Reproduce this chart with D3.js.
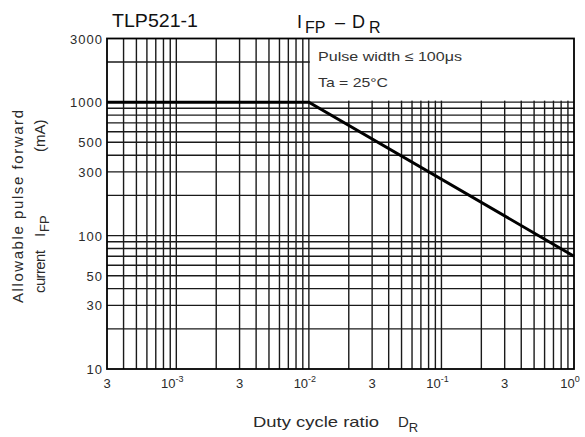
<!DOCTYPE html>
<html>
<head>
<meta charset="utf-8">
<script src="https://cdn.jsdelivr.net/npm/d3@7"></script>
<style>
  html, body { margin: 0; padding: 0; background: #fff; }
  svg { display: block; font-family: "Liberation Sans", Arial, sans-serif; }
</style>
</head>
<body>
<svg id="chart" width="585" height="437"></svg>
<script>
// ---- data ----
const dutyRatio = [3e-4, 1e-2, 1];
const ifpMax = [1000, 1000, 70];

const xGridValues = [4e-4,5e-4,6e-4,7e-4,8e-4,9e-4,1e-3,2e-3,3e-3,4e-3,5e-3,6e-3,7e-3,8e-3,9e-3,
                     1e-2,2e-2,3e-2,4e-2,5e-2,6e-2,7e-2,8e-2,9e-2,1e-1,2e-1,3e-1,4e-1,5e-1,6e-1,7e-1,8e-1,9e-1];
const yGridValues = [20,30,40,50,60,70,80,90,100,200,300,400,500,600,700,800,900,1000,2000];

const xTickValues = [3e-4, 1e-3, 3e-3, 1e-2, 3e-2, 1e-1, 3e-1, 1];
const xTickMant = ["3", "10", "3", "10", "3", "10", "3", "10"];
const xTickExp = ["", "-3", "", "-2", "", "-1", "", "0"];

const yTickValues = [10, 30, 50, 100, 300, 500, 1000, 3000];
const yTickLabels = ["10", "30", "50", "100", "300", "500", "1000", "3000"];

const noteLines = ["Pulse width \u2264 100\u03bcs", "Ta = 25\u00b0C"];

// ---- layout ----
const svg = d3.select("#chart");
const x = d3.scaleLog().domain([3e-4, 1]).range([107, 574]);
const y = d3.scaleLog().domain([10, 3000]).range([369, 38.5]);

const gridColor = "#1a1a1a";
const textColor = "#2a2a2a";

// grid
svg.append("g").selectAll("line").data(xGridValues).join("line")
  .attr("x1", d => x(d)).attr("x2", d => x(d))
  .attr("y1", y.range()[0]).attr("y2", y.range()[1])
  .attr("stroke", gridColor).attr("stroke-width", 1.4);

svg.append("g").selectAll("line").data(yGridValues).join("line")
  .attr("x1", x.range()[0]).attr("x2", x.range()[1])
  .attr("y1", d => y(d)).attr("y2", d => y(d))
  .attr("stroke", gridColor).attr("stroke-width", 1.4);

// note box covering the grid
svg.append("rect")
  .attr("x", x(1e-2) + 1).attr("y", y(3000))
  .attr("width", x(1) - x(1e-2) - 1).attr("height", y(1000) - y(3000) - 1.5)
  .attr("fill", "#fff");

svg.append("g").selectAll("text").data(noteLines).join("text")
  .attr("x", 318).attr("y", (d, i) => 61 + i * 25.5)
  .attr("font-size", 13).attr("fill", "#333")
  .attr("textLength", (d, i) => i === 0 ? 144 : 70)
  .attr("lengthAdjust", "spacingAndGlyphs")
  .text(d => d);

// frame
svg.append("rect")
  .attr("x", x.range()[0]).attr("y", y.range()[1])
  .attr("width", x.range()[1] - x.range()[0]).attr("height", y.range()[0] - y.range()[1])
  .attr("fill", "none").attr("stroke", "#000").attr("stroke-width", 1.8);

// curve
const line = d3.line().x(d => x(d[0])).y(d => y(d[1]));
svg.append("path")
  .datum(dutyRatio.map((d, i) => [d, ifpMax[i]]))
  .attr("d", line)
  .attr("fill", "none").attr("stroke", "#000").attr("stroke-width", 3);

// y tick labels
svg.append("g").selectAll("text").data(yTickValues).join("text")
  .attr("x", 103).attr("y", d => y(d) + 5)
  .attr("text-anchor", "end")
  .attr("font-size", 13).attr("fill", textColor)
  .attr("letter-spacing", "1")
  .text((d, i) => yTickLabels[i]);

// x tick labels
const xt = svg.append("g").selectAll("text").data(xTickValues).join("text")
  .attr("x", (d, i) => xTickExp[i] ? x(d) - 4 : x(d))
  .attr("y", 388)
  .attr("text-anchor", "middle")
  .attr("font-size", 13).attr("fill", textColor);
xt.append("tspan").text((d, i) => xTickMant[i]);
xt.append("tspan").attr("dy", -6).attr("font-size", 9).text((d, i) => xTickExp[i]);

// title
svg.append("text").attr("x", 112).attr("y", 27)
  .attr("font-size", 18).attr("fill", "#111")
  .attr("textLength", 86).attr("lengthAdjust", "spacingAndGlyphs")
  .text("TLP521-1");

const t2 = svg.append("text").attr("y", 28)
  .attr("font-size", 18).attr("fill", "#111");
t2.append("tspan").attr("x", 297).text("I");
t2.append("tspan").attr("x", 305).attr("dy", 5).attr("font-size", 16).text("FP");
t2.append("tspan").attr("x", 335).attr("dy", -5).attr("font-size", 18).text("\u2013");
t2.append("tspan").attr("x", 352).text("D");
t2.append("tspan").attr("x", 369).attr("dy", 5).attr("font-size", 16).text("R");

// x axis title
const xtTitle = svg.append("text").attr("y", 427)
  .attr("font-size", 15).attr("fill", textColor);
xtTitle.append("tspan").attr("x", 253).attr("textLength", 126).attr("lengthAdjust", "spacingAndGlyphs").text("Duty cycle ratio");
xtTitle.append("tspan").attr("x", 398).text("D");
xtTitle.append("tspan").attr("dy", 5).attr("font-size", 13).text("R");

// y axis title
const yt = svg.append("g");
yt.append("text")
  .attr("transform", "translate(23,303) rotate(-90)")
  .attr("font-size", 15).attr("fill", textColor)
  .attr("textLength", 193).attr("lengthAdjust", "spacing")
  .text("Allowable pulse forward");
const yt2 = yt.append("text")
  .attr("transform", "rotate(-90)")
  .attr("font-size", 15).attr("fill", textColor);
yt2.append("tspan").attr("x", -293).attr("y", 45).attr("textLength", 43).attr("lengthAdjust", "spacing").text("current");
yt2.append("tspan").attr("x", -237).attr("y", 45).text("I");
yt2.append("tspan").attr("x", -232).attr("y", 49).attr("font-size", 13).text("FP");
yt2.append("tspan").attr("x", -152).attr("y", 45).attr("font-size", 15).text("(mA)");
</script>
</body>
</html>
